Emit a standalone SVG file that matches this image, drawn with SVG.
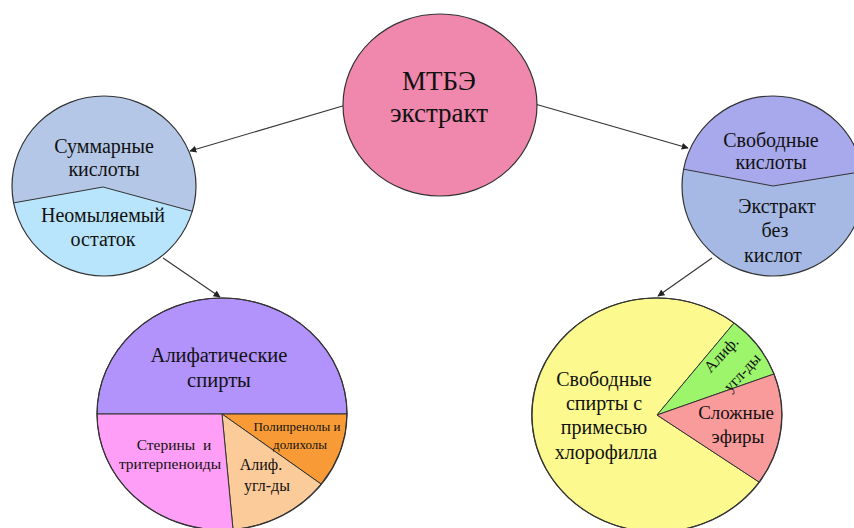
<svg xmlns="http://www.w3.org/2000/svg" width="854" height="528" viewBox="0 0 854 528">
<defs>
<marker id="ah" viewBox="0 0 10 10" refX="9" refY="5" markerWidth="7" markerHeight="7" markerUnits="userSpaceOnUse" orient="auto">
<path d="M0,0 L10,5 L0,10 Z" fill="#222"/>
</marker>
<clipPath id="clipL"><ellipse cx="104" cy="186" rx="92" ry="90"/></clipPath>
<clipPath id="clipR"><ellipse cx="773" cy="186" rx="91" ry="90"/></clipPath>
<style>
.t{font-family:"Liberation Serif","Times New Roman",serif;fill:#111;text-anchor:middle}
.edge{fill:none;stroke:#333;stroke-width:1.1}
.sl{stroke:#333;stroke-width:1}
.ol{fill:none;stroke:#333;stroke-width:1.2}
</style>
</defs>
<rect width="854" height="528" fill="#fff"/>

<g id="connectors">
<line class="edge" x1="346" y1="105" x2="190" y2="151" marker-end="url(#ah)"/>
<line class="edge" x1="535" y1="104" x2="688" y2="148" marker-end="url(#ah)"/>
<line class="edge" x1="163" y1="258" x2="220" y2="297" marker-end="url(#ah)"/>
<line class="edge" x1="712" y1="258" x2="658" y2="296" marker-end="url(#ah)"/>
</g>

<g id="mtbe">
<ellipse cx="440" cy="105" rx="97" ry="91" fill="#EF88AC" stroke="#333" stroke-width="1.2"/>
<text class="t" x="439" y="90" font-size="27">МТБЭ</text>
<text class="t" x="439" y="122" font-size="27">экстракт</text>
</g>

<g id="left-circle">
<ellipse cx="104" cy="186" rx="92" ry="90" fill="#B8E5FB"/>
<path d="M0,205 L13,203 L103,187 L194,212 L210,215 L210,80 L0,80 Z" fill="#B4C7E7" clip-path="url(#clipL)"/>
<polyline points="13,203 103,187 195,212" fill="none" stroke="#333" stroke-width="1" clip-path="url(#clipL)"/>
<ellipse cx="104" cy="186" rx="92" ry="90" class="ol"/>
<text class="t" x="104" y="153" font-size="20">Суммарные</text>
<text class="t" x="104" y="176" font-size="20">кислоты</text>
<text class="t" x="103" y="222" font-size="20">Неомыляемый</text>
<text class="t" x="103" y="246" font-size="20">остаток</text>
</g>

<g id="right-circle">
<ellipse cx="773" cy="186" rx="91" ry="90" fill="#A5B9E4"/>
<path d="M670,167 L683,169 L773,186 L862,172 L875,170 L875,80 L670,80 Z" fill="#A8A8EC" clip-path="url(#clipR)"/>
<polyline points="680,168.5 773,186 866,171" fill="none" stroke="#333" stroke-width="1" clip-path="url(#clipR)"/>
<ellipse cx="773" cy="186" rx="91" ry="90" class="ol"/>
<text class="t" x="771" y="147" font-size="20">Свободные</text>
<text class="t" x="771" y="169" font-size="20">кислоты</text>
<text class="t" x="777" y="213" font-size="20">Экстракт</text>
<text class="t" x="775" y="237" font-size="20">без</text>
<text class="t" x="773" y="262" font-size="20">кислот</text>
</g>

<g id="left-pie">
<path d="M97,414 A125,116 0 0 1 347,414 Z" fill="#B292FB" class="sl"/>
<path d="M222,414 L347,414 A125,116 0 0 1 321,484 Z" fill="#F89B36" class="sl"/>
<path d="M222,414 L321,484 A125,116 0 0 1 233,529.5 Z" fill="#FBCB99" class="sl"/>
<path d="M222,414 L233,529.5 A125,116 0 0 1 97,414 Z" fill="#FF9EF7" class="sl"/>
<ellipse cx="222" cy="414" rx="125" ry="116" class="ol"/>
<text class="t" x="219" y="362" font-size="20.5">Алифатические</text>
<text class="t" x="219" y="387" font-size="20.5">спирты</text>
<text class="t" x="174" y="450" font-size="15.5" xml:space="preserve">Стерины  и</text>
<text class="t" x="170" y="469" font-size="15.5">тритерпеноиды</text>
<text class="t" x="297" y="431" font-size="13">Полипренолы и</text>
<text class="t" x="300" y="449" font-size="13">долихолы</text>
<text class="t" x="261" y="470" font-size="16">Алиф.</text>
<text class="t" x="267" y="491" font-size="16">угл-ды</text>
</g>

<g id="right-pie">
<path d="M657,415 L759,482 A125,117 0 1 1 734,323 Z" fill="#FCF98E" class="sl"/>
<path d="M657,415 L734,323 A125,117 0 0 1 774,374 Z" fill="#9DF56C" class="sl"/>
<path d="M657,415 L774,374 A125,117 0 0 1 759,482 Z" fill="#F99B9B" class="sl"/>
<ellipse cx="657" cy="415" rx="125" ry="117" class="ol"/>
<text class="t" x="604" y="386" font-size="20">Свободные</text>
<text class="t" x="604" y="410" font-size="20">спирты с</text>
<text class="t" x="604" y="434" font-size="20">примесью</text>
<text class="t" x="606" y="459" font-size="20">хлорофилла</text>
<text class="t" x="736" y="419" font-size="19">Сложные</text>
<text class="t" x="738" y="443" font-size="19">эфиры</text>
<text class="t" font-size="16" transform="translate(725,358) rotate(-47)">Алиф.</text>
<text class="t" font-size="16" transform="translate(746,376) rotate(-47)">угл-ды</text>
</g>
</svg>
